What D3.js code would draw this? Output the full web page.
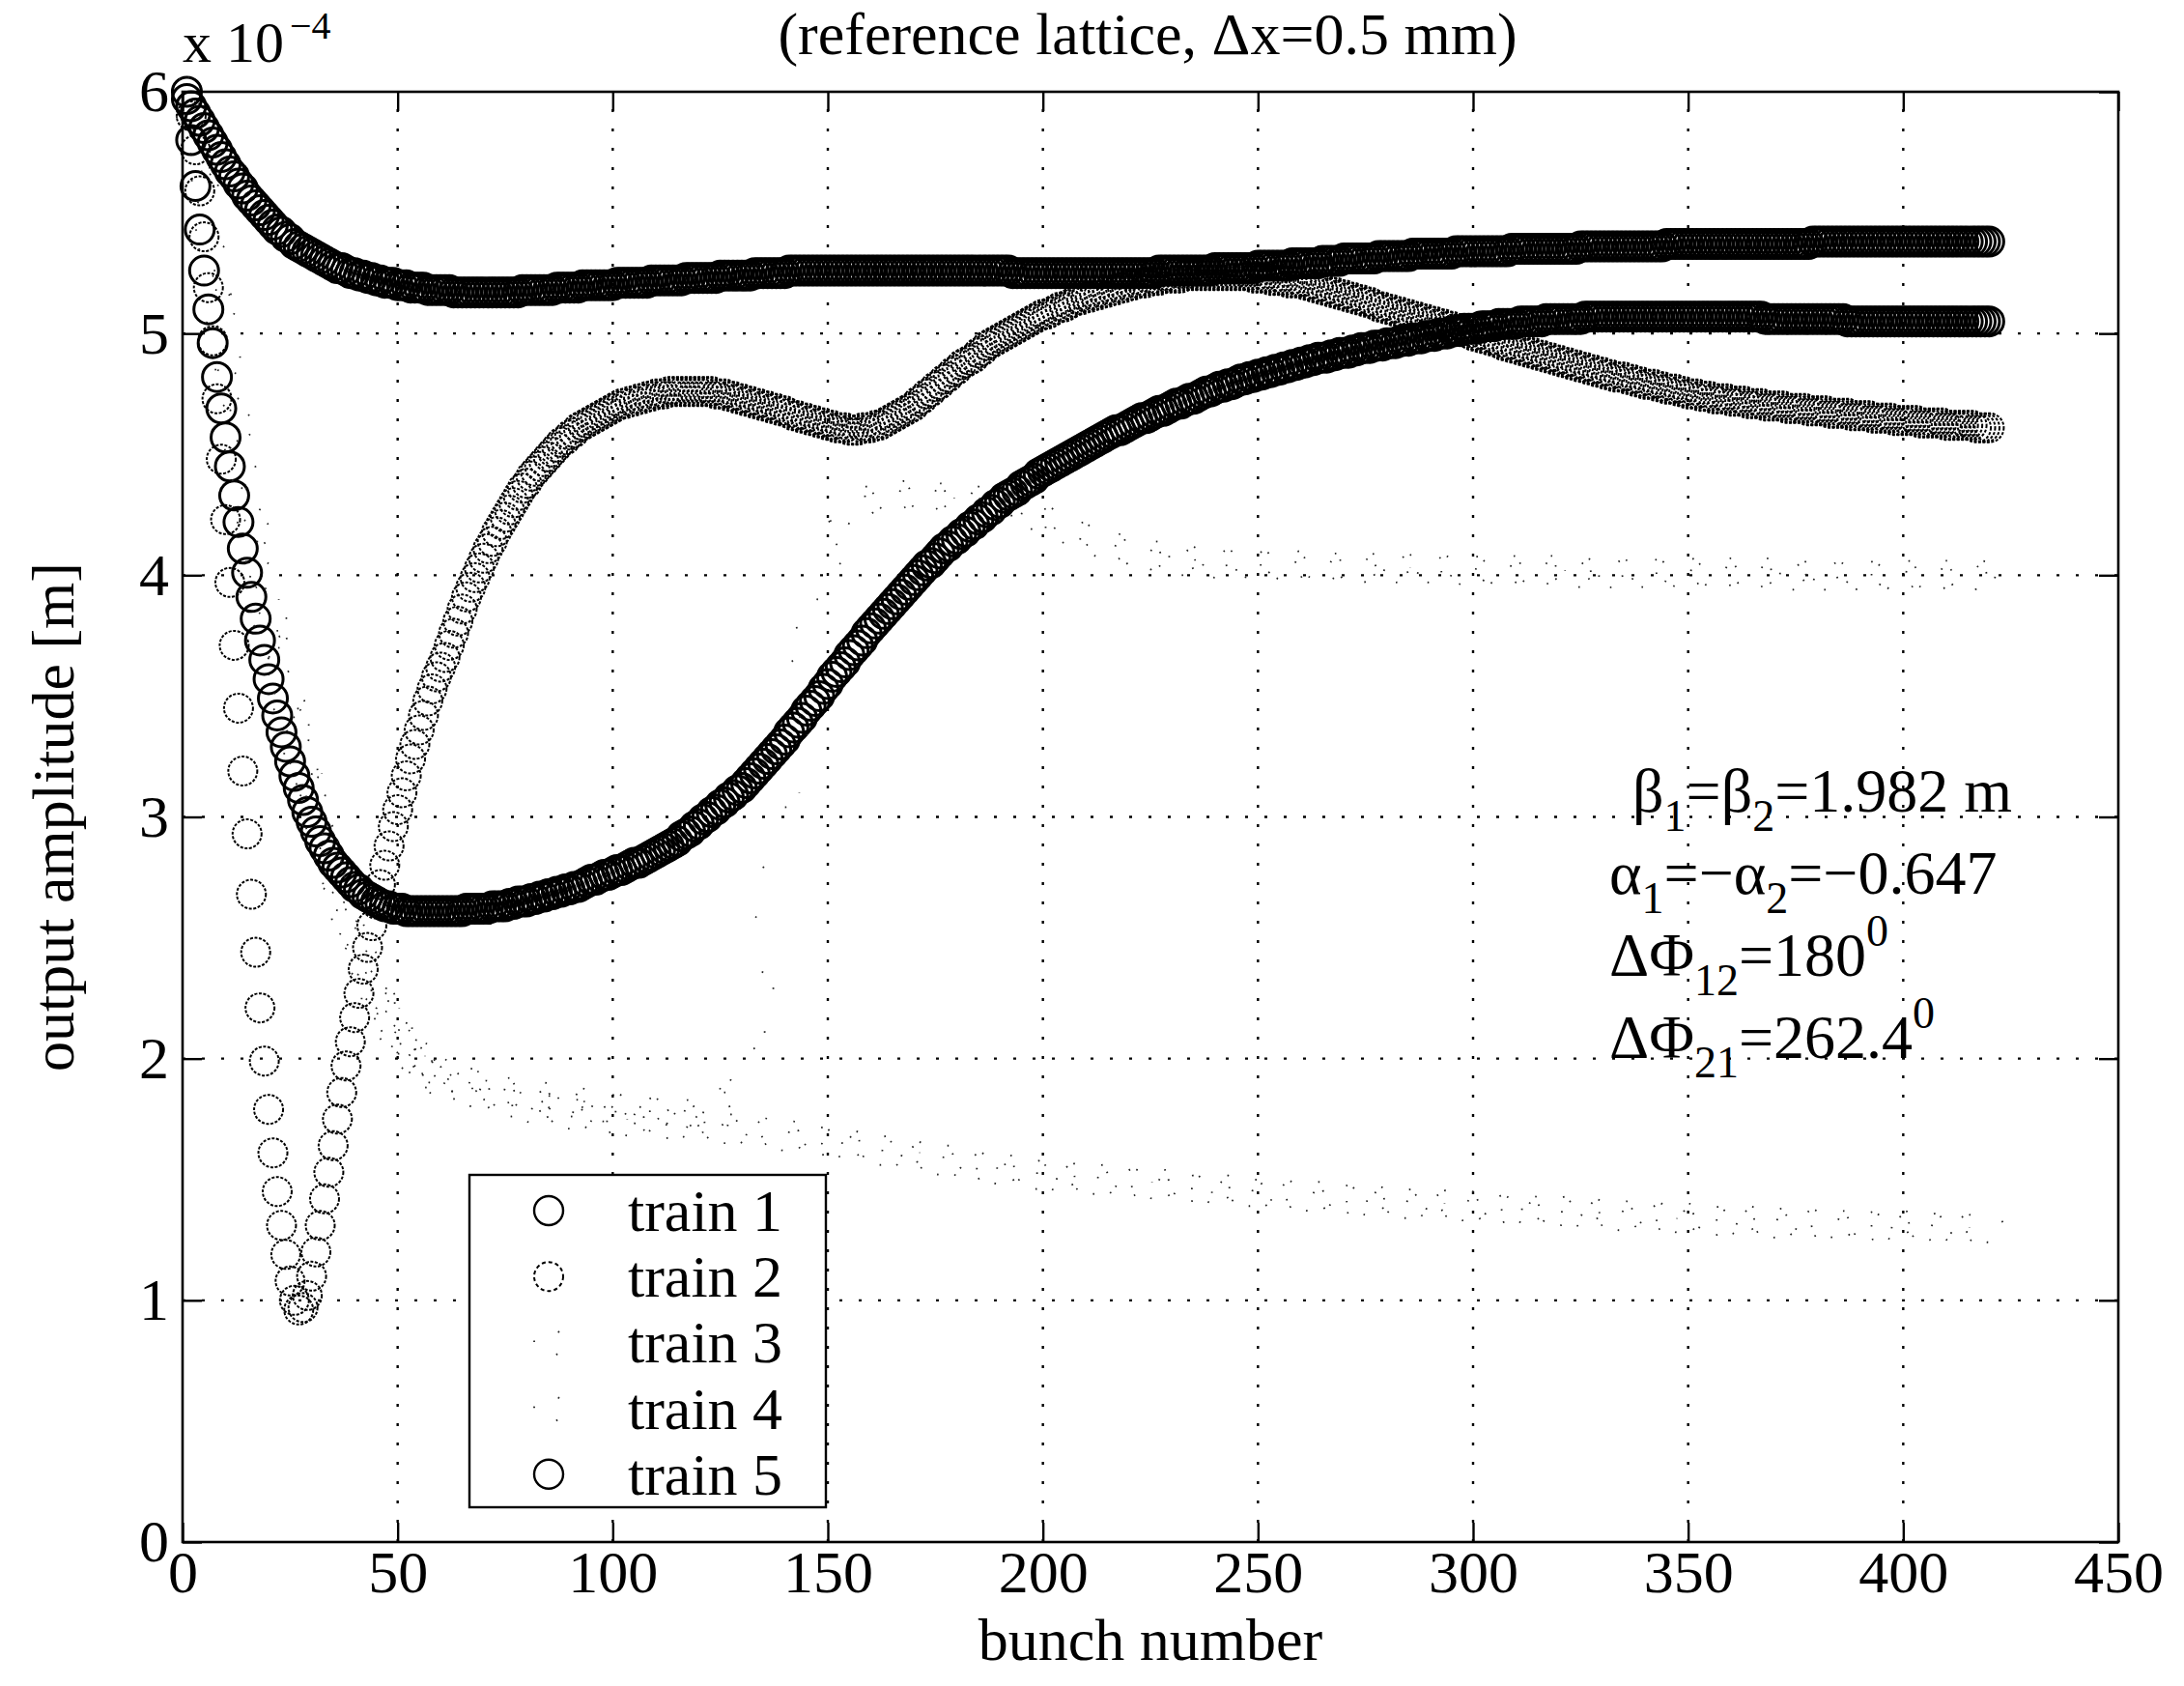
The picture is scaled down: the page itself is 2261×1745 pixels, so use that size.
<!DOCTYPE html>
<html>
<head>
<meta charset="utf-8">
<script src="https://cdn.jsdelivr.net/npm/d3@7"></script>
<style>
  html, body { margin: 0; padding: 0; background: #fff; }
  svg text { font-family: "Liberation Serif", "Times New Roman", serif; fill: #000; }
</style>
</head>
<body>
<svg id="chart" width="2261" height="1745"></svg>
<script>
// bunch numbers: every bunch for the circle trains, a thinner sampling for the faint ones
const bunchesAll = d3.range(1, 421);
const bunchesSparse = d3.range(1, 61).concat(d3.range(62, 421, 2));

// output amplitude, units of 1e-4 m
const train1 = [
  6.00,5.80,5.61,5.43,5.26,5.10,4.96,4.82,4.69,4.57,
  4.45,4.33,4.22,4.11,4.01,3.91,3.82,3.73,3.65,3.57,
  3.49,3.42,3.35,3.29,3.23,3.17,3.12,3.07,3.02,2.98,
  2.94,2.90,2.87,2.84,2.81,2.79,2.77,2.75,2.73,2.71,
  2.70,2.68,2.67,2.66,2.65,2.64,2.63,2.63,2.62,2.62,
  2.62,2.61,2.61,2.61,2.61,2.61,2.61,2.61,2.61,2.61,
  2.61,2.61,2.61,2.61,2.61,2.62,2.62,2.62,2.62,2.62,
  2.62,2.63,2.63,2.63,2.63,2.64,2.64,2.65,2.65,2.65,
  2.66,2.66,2.67,2.67,2.68,2.68,2.69,2.69,2.70,2.70,
  2.71,2.71,2.72,2.73,2.74,2.74,2.75,2.76,2.76,2.77,
  2.78,2.78,2.79,2.80,2.81,2.81,2.82,2.83,2.84,2.85,
  2.86,2.87,2.88,2.89,2.90,2.92,2.93,2.94,2.96,2.97,
  2.99,3.00,3.02,3.03,3.05,3.06,3.08,3.09,3.11,3.12,
  3.14,3.16,3.18,3.20,3.22,3.24,3.26,3.28,3.30,3.32,
  3.35,3.37,3.39,3.41,3.44,3.46,3.48,3.50,3.53,3.55,
  3.58,3.60,3.62,3.64,3.67,3.69,3.71,3.73,3.76,3.78,
  3.80,3.82,3.84,3.86,3.88,3.90,3.92,3.94,3.96,3.98,
  4.00,4.02,4.04,4.05,4.07,4.09,4.11,4.12,4.14,4.15,
  4.17,4.18,4.20,4.21,4.23,4.24,4.26,4.27,4.29,4.30,
  4.32,4.33,4.34,4.35,4.37,4.38,4.39,4.40,4.42,4.43,
  4.44,4.45,4.46,4.47,4.48,4.49,4.50,4.51,4.52,4.53,
  4.54,4.55,4.56,4.57,4.58,4.59,4.60,4.60,4.61,4.62,
  4.63,4.64,4.65,4.65,4.66,4.67,4.68,4.68,4.69,4.70,
  4.71,4.71,4.72,4.73,4.73,4.74,4.75,4.76,4.76,4.77,
  4.78,4.78,4.79,4.79,4.80,4.81,4.81,4.82,4.82,4.83,
  4.83,4.84,4.84,4.85,4.85,4.86,4.86,4.87,4.87,4.88,
  4.88,4.89,4.89,4.90,4.90,4.90,4.91,4.91,4.92,4.92,
  4.92,4.93,4.93,4.94,4.94,4.94,4.95,4.95,4.95,4.96,
  4.96,4.96,4.97,4.97,4.97,4.98,4.98,4.98,4.99,4.99,
  4.99,5.00,5.00,5.00,5.01,5.01,5.01,5.02,5.02,5.02,
  5.02,5.03,5.03,5.03,5.03,5.04,5.04,5.04,5.04,5.04,
  5.05,5.05,5.05,5.05,5.05,5.05,5.06,5.06,5.06,5.06,
  5.06,5.06,5.06,5.06,5.06,5.07,5.07,5.07,5.07,5.07,
  5.07,5.07,5.07,5.07,5.07,5.07,5.07,5.07,5.07,5.07,
  5.07,5.07,5.07,5.07,5.07,5.07,5.07,5.07,5.07,5.07,
  5.07,5.07,5.07,5.07,5.07,5.07,5.07,5.07,5.07,5.07,
  5.07,5.07,5.07,5.07,5.07,5.07,5.07,5.06,5.06,5.06,
  5.06,5.06,5.06,5.06,5.06,5.06,5.06,5.06,5.06,5.06,
  5.06,5.06,5.06,5.06,5.06,5.06,5.05,5.05,5.05,5.05,
  5.05,5.05,5.05,5.05,5.05,5.05,5.05,5.05,5.05,5.05,
  5.05,5.05,5.05,5.05,5.05,5.05,5.05,5.05,5.05,5.05,
  5.05,5.05,5.05,5.05,5.05,5.05,5.05,5.05,5.05,5.05
];

const train2 = [
  6.00,5.90,5.76,5.59,5.40,5.19,4.97,4.73,4.48,4.23,
  3.97,3.71,3.45,3.19,2.93,2.68,2.44,2.21,1.99,1.79,
  1.61,1.45,1.31,1.19,1.08,1.00,0.96,0.97,1.02,1.10,
  1.20,1.31,1.42,1.53,1.64,1.75,1.86,1.97,2.07,2.17,
  2.27,2.37,2.46,2.55,2.64,2.72,2.80,2.88,2.96,3.03,
  3.10,3.17,3.24,3.30,3.36,3.42,3.48,3.53,3.58,3.62,
  3.66,3.71,3.76,3.81,3.86,3.91,3.95,3.99,4.03,4.07,
  4.11,4.14,4.18,4.21,4.24,4.27,4.30,4.33,4.36,4.38,
  4.41,4.43,4.45,4.47,4.49,4.51,4.53,4.55,4.56,4.58,
  4.59,4.61,4.62,4.63,4.64,4.65,4.66,4.67,4.68,4.69,
  4.70,4.71,4.71,4.72,4.72,4.73,4.73,4.74,4.74,4.75,
  4.75,4.75,4.76,4.76,4.76,4.76,4.76,4.76,4.76,4.76,
  4.76,4.76,4.76,4.75,4.75,4.75,4.74,4.74,4.73,4.73,
  4.72,4.72,4.71,4.71,4.70,4.70,4.69,4.69,4.68,4.68,
  4.67,4.66,4.66,4.65,4.65,4.64,4.64,4.63,4.63,4.62,
  4.62,4.61,4.61,4.61,4.60,4.60,4.60,4.61,4.61,4.61,
  4.62,4.62,4.63,4.64,4.65,4.66,4.67,4.68,4.69,4.70,
  4.72,4.73,4.75,4.76,4.78,4.79,4.81,4.82,4.84,4.85,
  4.87,4.88,4.89,4.90,4.92,4.93,4.95,4.96,4.97,4.98,
  4.99,5.00,5.01,5.02,5.03,5.04,5.05,5.06,5.07,5.08,
  5.08,5.09,5.10,5.11,5.11,5.12,5.13,5.14,5.14,5.15,
  5.15,5.16,5.16,5.17,5.17,5.18,5.18,5.19,5.19,5.20,
  5.20,5.21,5.21,5.21,5.22,5.22,5.22,5.23,5.23,5.23,
  5.23,5.23,5.24,5.24,5.24,5.24,5.24,5.24,5.24,5.24,
  5.24,5.24,5.24,5.24,5.24,5.24,5.24,5.24,5.23,5.23,
  5.23,5.23,5.22,5.22,5.22,5.22,5.21,5.21,5.21,5.21,
  5.20,5.20,5.19,5.19,5.18,5.18,5.17,5.17,5.16,5.16,
  5.15,5.15,5.14,5.14,5.13,5.13,5.12,5.11,5.11,5.10,
  5.10,5.09,5.09,5.08,5.08,5.07,5.07,5.06,5.06,5.05,
  5.05,5.04,5.04,5.03,5.03,5.02,5.02,5.01,5.00,4.99,
  4.99,4.98,4.98,4.97,4.97,4.96,4.95,4.95,4.94,4.94,
  4.93,4.93,4.92,4.92,4.91,4.91,4.90,4.90,4.89,4.89,
  4.88,4.88,4.87,4.87,4.86,4.86,4.85,4.85,4.84,4.84,
  4.83,4.83,4.82,4.82,4.82,4.81,4.81,4.80,4.80,4.79,
  4.79,4.79,4.78,4.78,4.77,4.77,4.77,4.76,4.76,4.75,
  4.75,4.75,4.74,4.74,4.74,4.73,4.73,4.73,4.73,4.72,
  4.72,4.72,4.72,4.71,4.71,4.71,4.71,4.70,4.70,4.70,
  4.70,4.70,4.69,4.69,4.69,4.69,4.69,4.68,4.68,4.68,
  4.68,4.68,4.67,4.67,4.67,4.67,4.67,4.66,4.66,4.66,
  4.66,4.66,4.65,4.65,4.65,4.65,4.65,4.64,4.64,4.64,
  4.64,4.64,4.64,4.63,4.63,4.63,4.63,4.63,4.63,4.62,
  4.62,4.62,4.62,4.62,4.62,4.62,4.61,4.61,4.61,4.61
];

const train3 = [
  6.00,5.90,5.80,5.70,5.60,5.46,5.32,5.18,5.04,4.90,
  4.78,4.66,4.54,4.42,4.30,4.20,4.10,4.00,3.90,3.80,
  3.72,3.64,3.56,3.48,3.40,3.33,3.26,3.19,3.12,3.05,
  2.99,2.93,2.87,2.81,2.75,2.70,2.64,2.59,2.53,2.48,
  2.43,2.39,2.34,2.30,2.25,2.22,2.18,2.15,2.11,2.08,
  2.06,2.04,2.01,1.99,1.97,1.96,1.94,1.93,1.91,1.90,
  1.89,1.88,1.87,1.86,1.85,1.84,1.83,1.82,1.81,1.80,
  1.79,1.79,1.78,1.78,1.77,1.77,1.76,1.76,1.75,1.75,
  1.75,1.74,1.74,1.74,1.74,1.73,1.73,1.73,1.73,1.72,
  1.72,1.72,1.71,1.71,1.71,1.70,1.70,1.69,1.69,1.68,
  1.68,1.67,1.67,1.66,1.66,1.65,1.65,1.64,1.64,1.63,
  1.62,1.62,1.61,1.61,1.60,1.59,1.59,1.58,1.58,1.57,
  1.56,1.56,1.55,1.55,1.54,1.54,1.53,1.53,1.52,1.52,
  1.52,1.51,1.51,1.51,1.50,1.50,1.50,1.49,1.49,1.49,
  1.49,1.48,1.48,1.48,1.47,1.47,1.47,1.46,1.46,1.46,
  1.46,1.45,1.45,1.45,1.44,1.44,1.44,1.44,1.43,1.43,
  1.43,1.43,1.42,1.42,1.42,1.42,1.41,1.41,1.41,1.41,
  1.41,1.40,1.40,1.40,1.40,1.40,1.39,1.39,1.39,1.39,
  1.39,1.38,1.38,1.38,1.38,1.38,1.37,1.37,1.37,1.37,
  1.37,1.36,1.36,1.36,1.36,1.36,1.35,1.35,1.35,1.35,
  1.35,1.34,1.34,1.34,1.34,1.34,1.33,1.33,1.33,1.33,
  1.33,1.33,1.33,1.32,1.32,1.32,1.32,1.32,1.32,1.32,
  1.32,1.32,1.31,1.31,1.31,1.31,1.31,1.31,1.31,1.31,
  1.31,1.31,1.31,1.30,1.30,1.30,1.30,1.30,1.30,1.30
];

const train4 = [
  6.00,5.92,5.83,5.73,5.63,5.50,5.37,5.24,5.11,4.98,
  4.86,4.74,4.62,4.50,4.39,4.28,4.18,4.08,3.98,3.89,
  3.80,3.71,3.63,3.55,3.47,3.39,3.32,3.25,3.18,3.11,
  3.04,2.97,2.91,2.85,2.79,2.73,2.67,2.61,2.56,2.51,
  2.46,2.41,2.37,2.33,2.29,2.25,2.21,2.18,2.15,2.12,
  2.09,2.07,2.05,2.03,2.01,1.99,1.98,1.96,1.95,1.94,
  1.93,1.92,1.91,1.90,1.89,1.88,1.87,1.86,1.85,1.85,
  1.84,1.84,1.83,1.83,1.82,1.82,1.81,1.81,1.80,1.80,
  1.80,1.79,1.79,1.79,1.78,1.78,1.78,1.77,1.77,1.77,
  1.77,1.78,1.80,1.85,1.95,2.10,2.30,2.55,2.82,3.10,
  3.36,3.60,3.80,3.96,4.08,4.17,4.23,4.27,4.30,4.31,
  4.32,4.33,4.33,4.33,4.33,4.33,4.33,4.32,4.32,4.32,
  4.31,4.31,4.30,4.30,4.29,4.28,4.27,4.26,4.25,4.23,
  4.22,4.20,4.19,4.17,4.16,4.14,4.13,4.12,4.11,4.10,
  4.09,4.08,4.08,4.07,4.07,4.06,4.06,4.06,4.05,4.05,
  4.05,4.05,4.05,4.05,4.05,4.04,4.04,4.04,4.04,4.04,
  4.04,4.04,4.04,4.03,4.03,4.03,4.03,4.03,4.03,4.03,
  4.03,4.03,4.03,4.03,4.03,4.03,4.02,4.02,4.02,4.02,
  4.02,4.02,4.02,4.02,4.02,4.02,4.02,4.02,4.02,4.02,
  4.02,4.01,4.01,4.01,4.01,4.01,4.01,4.01,4.01,4.01,
  4.01,4.01,4.01,4.01,4.01,4.01,4.01,4.01,4.01,4.01,
  4.01,4.01,4.01,4.01,4.00,4.00,4.00,4.00,4.00,4.00,
  4.00,4.00,4.00,4.00,4.00,4.00,4.00,4.00,4.00,4.00,
  4.00,4.00,4.00,4.00,4.00,4.00,4.00,4.00,4.00,4.00
];

const train5 = [
  5.97,5.94,5.91,5.88,5.85,5.82,5.79,5.76,5.73,5.70,
  5.67,5.65,5.62,5.60,5.57,5.55,5.53,5.51,5.49,5.47,
  5.45,5.43,5.42,5.40,5.39,5.37,5.36,5.35,5.34,5.33,
  5.32,5.31,5.30,5.29,5.28,5.27,5.27,5.26,5.25,5.25,
  5.24,5.24,5.23,5.23,5.22,5.22,5.21,5.21,5.21,5.20,
  5.20,5.20,5.19,5.19,5.19,5.19,5.18,5.18,5.18,5.18,
  5.18,5.18,5.17,5.17,5.17,5.17,5.17,5.17,5.17,5.17,
  5.17,5.17,5.17,5.17,5.17,5.17,5.17,5.17,5.18,5.18,
  5.18,5.18,5.18,5.18,5.18,5.18,5.19,5.19,5.19,5.19,
  5.19,5.19,5.20,5.20,5.20,5.20,5.20,5.20,5.20,5.20,
  5.21,5.21,5.21,5.21,5.21,5.21,5.21,5.21,5.22,5.22,
  5.22,5.22,5.22,5.22,5.22,5.22,5.23,5.23,5.23,5.23,
  5.23,5.23,5.23,5.23,5.24,5.24,5.24,5.24,5.24,5.24,
  5.24,5.24,5.25,5.25,5.25,5.25,5.25,5.25,5.25,5.25,
  5.26,5.26,5.26,5.26,5.26,5.26,5.26,5.26,5.26,5.26,
  5.26,5.26,5.26,5.26,5.26,5.26,5.26,5.26,5.26,5.26,
  5.26,5.26,5.26,5.26,5.26,5.26,5.26,5.26,5.26,5.26,
  5.26,5.26,5.26,5.26,5.26,5.26,5.26,5.26,5.26,5.26,
  5.26,5.26,5.26,5.26,5.26,5.26,5.26,5.26,5.26,5.26,
  5.26,5.26,5.25,5.25,5.25,5.25,5.25,5.25,5.25,5.25,
  5.25,5.25,5.25,5.25,5.25,5.25,5.25,5.25,5.25,5.25,
  5.25,5.25,5.25,5.25,5.25,5.25,5.25,5.25,5.25,5.25,
  5.25,5.25,5.25,5.25,5.25,5.25,5.26,5.26,5.26,5.26,
  5.26,5.26,5.26,5.26,5.26,5.26,5.26,5.26,5.26,5.27,
  5.27,5.27,5.27,5.27,5.27,5.27,5.27,5.27,5.27,5.28,
  5.28,5.28,5.28,5.28,5.28,5.28,5.28,5.29,5.29,5.29,
  5.29,5.29,5.29,5.29,5.30,5.30,5.30,5.30,5.30,5.31,
  5.31,5.31,5.31,5.31,5.31,5.31,5.31,5.32,5.32,5.32,
  5.32,5.32,5.32,5.32,5.32,5.33,5.33,5.33,5.33,5.33,
  5.33,5.33,5.33,5.33,5.33,5.34,5.34,5.34,5.34,5.34,
  5.34,5.34,5.34,5.34,5.34,5.34,5.34,5.34,5.35,5.35,
  5.35,5.35,5.35,5.35,5.35,5.35,5.35,5.35,5.35,5.35,
  5.35,5.35,5.35,5.35,5.36,5.36,5.36,5.36,5.36,5.36,
  5.36,5.36,5.36,5.36,5.36,5.36,5.36,5.36,5.36,5.36,
  5.36,5.36,5.36,5.36,5.37,5.37,5.37,5.37,5.37,5.37,
  5.37,5.37,5.37,5.37,5.37,5.37,5.37,5.37,5.37,5.37,
  5.37,5.37,5.37,5.37,5.37,5.37,5.37,5.37,5.37,5.37,
  5.37,5.37,5.37,5.37,5.37,5.37,5.37,5.37,5.38,5.38,
  5.38,5.38,5.38,5.38,5.38,5.38,5.38,5.38,5.38,5.38,
  5.38,5.38,5.38,5.38,5.38,5.38,5.38,5.38,5.38,5.38,
  5.38,5.38,5.38,5.38,5.38,5.38,5.38,5.38,5.38,5.38,
  5.38,5.38,5.38,5.38,5.38,5.38,5.38,5.38,5.38,5.38
];

const seriesNames = ["train 1", "train 2", "train 3", "train 4", "train 5"];
const seriesValues = [train1, train2, train3, train4, train5];
const seriesBunches = [bunchesAll, bunchesAll, bunchesSparse, bunchesSparse, bunchesAll];

const xTicks = [0, 50, 100, 150, 200, 250, 300, 350, 400, 450];
const yTicks = [0, 1, 2, 3, 4, 5, 6];

const titleText = "(reference lattice, \u0394x=0.5 mm)";
const xLabel = "bunch number";
const yLabel = "output amplitude [m]";

// ---- layout ----
const svg = d3.select("#chart");
const plot = { left: 189, right: 2193, top: 95, bottom: 1596 };
const FONT = 62;

const x = d3.scaleLinear().domain([0, 450]).range([plot.left, plot.right]);
const y = d3.scaleLinear().domain([0, 6]).range([plot.bottom, plot.top]);

svg.append("rect").attr("width", 2261).attr("height", 1745).attr("fill", "#fff");

// dotted grid
const grid = svg.append("g").attr("stroke", "#000").attr("stroke-width", 2.4)
  .attr("stroke-dasharray", "3,17");
grid.selectAll("line.gx").data(xTicks.slice(1, -1)).join("line")
  .attr("x1", d => x(d)).attr("x2", d => x(d))
  .attr("y1", y(0)).attr("y2", y(6));
grid.selectAll("line.gy").data(yTicks.slice(1, -1)).join("line")
  .attr("x1", x(0)).attr("x2", x(450))
  .attr("y1", d => y(d)).attr("y2", d => y(d));

// circle marker styles: solid black, broken dark, and two faint speckled trains
const markerStyle = [
  { stroke: "#000", width: 3.0, dash: null, scatter: 0 },
  { stroke: "#000", width: 2.0, dash: "3,1.6", scatter: 0 },
  { stroke: "#222", width: 1.8, dash: "1.6,60", scatter: 61 },
  { stroke: "#222", width: 1.8, dash: "1.6,70", scatter: 71 },
  { stroke: "#000", width: 3.0, dash: null, scatter: 0 }
];
const R = 15;

seriesValues.forEach((vals, si) => {
  const st = markerStyle[si];
  const bx = seriesBunches[si];
  svg.append("g")
    .attr("fill", "none")
    .attr("stroke", st.stroke)
    .attr("stroke-width", st.width)
    .attr("stroke-dasharray", st.dash)
    .selectAll("circle")
    .data(bx.map((b, i) => [b, vals[i], i]))
    .join("circle")
    .attr("cx", d => x(d[0]))
    .attr("cy", d => y(d[1]))
    .attr("r", R)
    .attr("stroke-dashoffset", d => st.scatter ? (d[2] * 17) % st.scatter : null);
});

// axes with inward ticks on all four sides
const TICK = 20;
const axes = svg.append("g");
axes.append("g").attr("transform", `translate(0,${plot.bottom})`)
  .call(d3.axisBottom(x).tickValues(xTicks).tickFormat(d3.format("d"))
    .tickSizeInner(-TICK).tickSizeOuter(0).tickPadding(8));
axes.append("g").attr("transform", `translate(0,${plot.top})`)
  .call(d3.axisTop(x).tickValues(xTicks).tickSizeInner(-TICK).tickSizeOuter(0).tickFormat(""));
axes.append("g").attr("transform", `translate(${plot.left},0)`)
  .call(d3.axisLeft(y).tickValues(yTicks).tickFormat(d3.format("d"))
    .tickSizeInner(-TICK).tickSizeOuter(0).tickPadding(14));
axes.append("g").attr("transform", `translate(${plot.right},0)`)
  .call(d3.axisRight(y).tickValues(yTicks).tickSizeInner(-TICK).tickSizeOuter(0).tickFormat(""));

axes.selectAll(".domain").remove();
axes.selectAll(".tick line").attr("stroke", "#000").attr("stroke-width", 2.4);
axes.selectAll(".tick text")
  .style("font-family", '"Liberation Serif", "Times New Roman", serif')
  .style("font-size", FONT + "px").attr("fill", "#000");

svg.append("rect")
  .attr("x", plot.left).attr("y", plot.top)
  .attr("width", plot.right - plot.left).attr("height", plot.bottom - plot.top)
  .attr("fill", "none").attr("stroke", "#000").attr("stroke-width", 2.6);

// exponent label
const expo = svg.append("text").attr("x", 189).attr("y", 64).style("font-size", "60px");
expo.append("tspan").text("x 10");
expo.append("tspan").attr("dx", 6).attr("dy", -24).style("font-size", "40px").text("\u22124");

// title
svg.append("text").attr("x", 1188).attr("y", 56).attr("text-anchor", "middle")
  .style("font-size", FONT + "px").text(titleText);

// axis labels
svg.append("text").attr("x", (plot.left + plot.right) / 2).attr("y", 1718)
  .attr("text-anchor", "middle").style("font-size", FONT + "px").text(xLabel);
svg.append("text").attr("transform", `translate(76,${(plot.top + plot.bottom) / 2}) rotate(-90)`)
  .attr("text-anchor", "middle").style("font-size", FONT + "px").text(yLabel);

// lattice parameters
const PFONT = 64;
const params = [
  { x: 1690, y: 840, parts: [["\u03B2"], ["1", "sub"], ["=\u03B2"], ["2", "sub"], ["=1.982 m"]] },
  { x: 1666, y: 925, parts: [["\u03B1"], ["1", "sub"], ["=\u2212\u03B1"], ["2", "sub"], ["=\u22120.647"]] },
  { x: 1666, y: 1010, parts: [["\u0394\u03A6"], ["12", "sub"], ["=180"], ["0", "sup"]] },
  { x: 1666, y: 1095, parts: [["\u0394\u03A6"], ["21", "sub"], ["=262.4"], ["0", "sup"]] }
];
params.forEach(line => {
  const t = svg.append("text").attr("x", line.x).attr("y", line.y).style("font-size", PFONT + "px");
  let shift = 0;
  line.parts.forEach(([s, kind]) => {
    const target = kind === "sub" ? 20 : kind === "sup" ? -31 : 0;
    t.append("tspan").attr("dy", target - shift)
      .style("font-size", kind ? "46px" : PFONT + "px").text(s);
    shift = target;
  });
});

// legend
const legend = svg.append("g");
legend.append("rect").attr("x", 486).attr("y", 1216).attr("width", 369).attr("height", 344)
  .attr("fill", "#fff").attr("stroke", "#000").attr("stroke-width", 2.4);
const rowY = i => 1253 + i * 68.2;
seriesNames.forEach((name, i) => {
  const st = markerStyle[i];
  legend.append("circle").attr("cx", 568).attr("cy", rowY(i)).attr("r", 15)
    .attr("fill", "none").attr("stroke", st.stroke).attr("stroke-width", Math.min(st.width, 2.4))
    .attr("stroke-dasharray", st.dash ? (st.scatter ? "1.6,32" : "4,3") : null)
    .attr("stroke-dashoffset", st.scatter ? 20 : null);
  legend.append("text").attr("x", 650).attr("y", rowY(i) + 21)
    .style("font-size", FONT + "px").text(name);
});
</script>
</body>
</html>
